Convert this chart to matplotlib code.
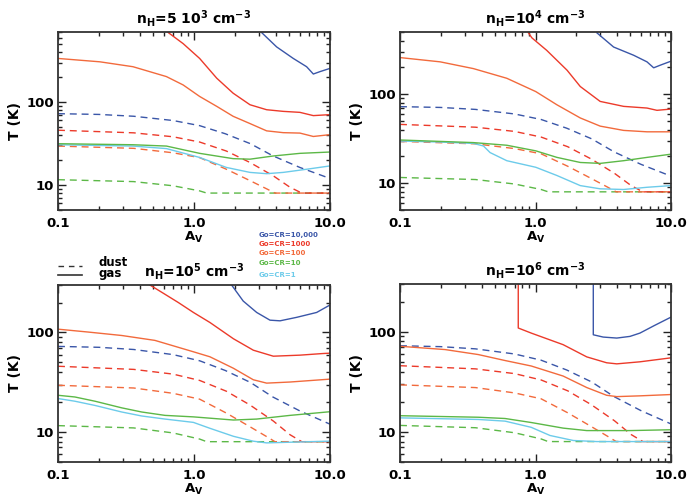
import matplotlib
matplotlib.use('Agg')
import matplotlib.pyplot as plt
from matplotlib.ticker import FixedLocator, FixedFormatter, LogLocator, NullFormatter

plt.rcParams['font.family'] = ['DejaVu Sans']
plt.rcParams['font.weight'] = 'bold'
plt.rcParams['mathtext.default'] = 'bf'

# ---------------- data ----------------
titles = [r'n$_{H}$=5 10$^{3}$ cm$^{-3}$', r'n$_{H}$=10$^{4}$ cm$^{-3}$',
          r'n$_{H}$=10$^{5}$ cm$^{-3}$', r'n$_{H}$=10$^{6}$ cm$^{-3}$']
ylims = [(5, 700), (5, 500), (5, 300), (5, 300)]
legend_labels = ['Go=CR=10,000', 'Go=CR=1000', 'Go=CR=100', 'Go=CR=10', 'Go=CR=1']

# dust temperatures (same for all densities)
dust_av_g1e4 = [0.1, 0.2, 0.36, 0.7, 1.1, 1.7, 2.6, 3.8, 6.0, 10]
dust_t_g1e4 = [72.5, 71, 67.5, 60, 52, 41.5, 31.5, 22.5, 16.3, 12]
dust_av_g1e3 = [0.1, 0.36, 0.7, 1.1, 1.73, 2.58, 3.83, 5.08, 6.2, 10]
dust_t_g1e3 = [45.8, 42.6, 38.2, 33, 25.7, 18.7, 12.9, 9.4, 8, 8]
dust_av_g1e2 = [0.1, 0.36, 0.7, 1.1, 1.73, 2.58, 3.42, 3.94, 10]
dust_t_g1e2 = [29.5, 27.7, 24.5, 21.4, 15.5, 11.3, 9, 8, 8]
dust_av_g10 = [0.1, 0.36, 0.7, 1.1, 1.24, 10]
dust_t_g10 = [11.6, 11, 9.8, 8.5, 8, 8]

# gas temperatures, panel 1 (n=5e3)
p1_av_g1e4 = [3.14, 4.05, 5.37, 6.73, 7.54, 8.44, 10]
p1_t_g1e4 = [690, 463, 336, 267, 218, 233, 255]
p1_av_g1e3 = [0.646, 0.832, 1.10, 1.47, 1.94, 2.58, 3.42, 4.53, 6.01, 7.54, 10]
p1_t_g1e3 = [690, 507, 336, 194, 128, 92.9, 80.9, 77.3, 75.2, 68.7, 70.6]
p1_av_g1e2 = [0.1, 0.203, 0.356, 0.627, 0.832, 1.10, 1.47, 1.94, 2.58, 3.42, 4.53, 6.01, 7.54, 10]
p1_t_g1e2 = [336, 306, 267, 203, 161, 117, 88.8, 67.4, 55.1, 45, 42.8, 42.3, 38.5, 40.5]
p1_av_g10 = [0.1, 0.356, 0.627, 1.10, 1.94, 2.58, 3.83, 6.01, 10]
p1_t_g10 = [31.5, 30.6, 29.5, 24.1, 20.8, 20.5, 22.4, 24.1, 25]
p1_av_g1 = [0.1, 0.356, 0.627, 1.10, 1.73, 2.58, 3.42, 4.53, 6.73, 10]
p1_t_g1 = [30.6, 29.5, 27.5, 21.5, 16.3, 14.2, 13.7, 14.2, 15.5, 17.0]

# panel 2 (n=1e4)
p2_av_g1e4 = [2.84, 3.77, 5.3, 6.65, 7.45, 8.34, 10]
p2_t_g1e4 = [489, 339, 274, 231, 198, 212, 235]
p2_av_g1e3 = [0.887, 0.94, 1.21, 1.71, 2.14, 3.0, 4.47, 6.65, 7.88, 10]
p2_t_g1e3 = [489, 430, 311, 186, 122, 83, 73, 69.9, 65.9, 68.1]
p2_av_g1e2 = [0.1, 0.198, 0.348, 0.614, 1.005, 1.44, 2.14, 3.0, 4.47, 6.65, 10]
p2_t_g1e2 = [258, 231, 194, 151, 107, 76, 54.1, 43.8, 39.2, 37.8, 37.8]
p2_av_g10 = [0.1, 0.348, 0.614, 1.005, 1.44, 2.14, 3.0, 4.47, 6.65, 10]
p2_t_g10 = [30.6, 28.6, 26.7, 23.1, 19.5, 17.1, 16.7, 17.9, 19.5, 21.2]
p2_av_g1 = [0.1, 0.198, 0.348, 0.413, 0.462, 0.614, 1.005, 1.44, 2.14, 3.0, 4.47, 6.65, 10]
p2_t_g1 = [29.8, 29.0, 28.0, 26.2, 22.1, 17.9, 15.1, 12.2, 9.4, 8.65, 8.5, 9.0, 9.4]

# panel 3 (n=1e5)
p3_av_g1e4 = [1.89, 2.3, 2.89, 3.62, 4.29, 5.69, 7.98, 10]
p3_t_g1e4 = [300, 207, 159, 133, 131, 142, 159, 189]
p3_av_g1e3 = [0.474, 0.612, 0.767, 0.99, 1.31, 1.95, 2.73, 3.83, 6.0, 8.9, 10]
p3_t_g1e3 = [300, 242, 200, 159, 126, 86.5, 66.4, 57.8, 59.2, 61.5, 62]
p3_av_g1e2 = [0.1, 0.167, 0.294, 0.516, 0.99, 1.31, 1.95, 2.73, 3.42, 5.08, 10]
p3_t_g1e2 = [108, 101, 93.3, 83.3, 64, 57, 43.7, 33.5, 31, 31.8, 34]
p3_av_g10 = [0.1, 0.133, 0.187, 0.294, 0.412, 0.612, 0.99, 1.95, 2.89, 5.08, 10]
p3_t_g10 = [23.4, 22.5, 20.4, 17.5, 15.9, 14.7, 14.2, 13.2, 13.5, 14.7, 16.0]
p3_av_g1 = [0.1, 0.133, 0.187, 0.294, 0.412, 0.612, 0.99, 1.31, 1.95, 2.73, 3.42, 5.08, 10]
p3_t_g1 = [21.7, 20.4, 18.5, 15.9, 14.5, 13.5, 12.5, 10.9, 9.06, 8.09, 7.78, 7.9, 8.1]

# panel 4 (n=1e6)
p4_av_g1e4 = [2.67, 2.67, 3.16, 3.98, 4.98, 5.9, 7.5, 10]
p4_t_g1e4 = [400, 93.3, 88.5, 86.5, 89.9, 97, 115, 140]
p4_av_g1e3 = [0.746, 0.746, 0.93, 1.6, 2.39, 3.35, 3.98, 5.9, 10]
p4_t_g1e3 = [400, 109, 97, 74.3, 56.1, 49, 47.8, 50.1, 54.9]
p4_av_g1e2 = [0.1, 0.215, 0.378, 0.596, 0.93, 1.6, 2.39, 3.35, 3.98, 5.9, 10]
p4_t_g1e2 = [71.6, 66.4, 59.2, 51.6, 45.5, 36.1, 27.7, 23.2, 22.5, 22.9, 23.6]
p4_av_g10 = [0.1, 0.378, 0.596, 0.93, 1.6, 2.39, 4.98, 10]
p4_t_g10 = [14.5, 14.0, 13.6, 12.4, 10.9, 10.3, 10.3, 10.5]
p4_av_g1 = [0.1, 0.378, 0.596, 0.93, 1.28, 1.9, 2.83, 10]
p4_t_g1 = [13.8, 13.3, 12.8, 11.1, 9.2, 8.2, 8.0, 8.0]

# ---------------- style ----------------
C_BLUE = '#3a56a8'
C_RED = '#ec3a2a'
C_ORANGE = '#f26a3c'
C_GREEN = '#5cb847'
C_CYAN = '#6ccbea'
colors = [C_BLUE, C_RED, C_ORANGE, C_GREEN, C_CYAN]

dust = [(dust_av_g10, dust_t_g10, C_GREEN),
        (dust_av_g1e2, dust_t_g1e2, C_ORANGE),
        (dust_av_g1e3, dust_t_g1e3, C_RED),
        (dust_av_g1e4, dust_t_g1e4, C_BLUE)]

gas_panels = [
    [(p1_av_g1e4, p1_t_g1e4), (p1_av_g1e3, p1_t_g1e3), (p1_av_g1e2, p1_t_g1e2), (p1_av_g10, p1_t_g10), (p1_av_g1, p1_t_g1)],
    [(p2_av_g1e4, p2_t_g1e4), (p2_av_g1e3, p2_t_g1e3), (p2_av_g1e2, p2_t_g1e2), (p2_av_g10, p2_t_g10), (p2_av_g1, p2_t_g1)],
    [(p3_av_g1e4, p3_t_g1e4), (p3_av_g1e3, p3_t_g1e3), (p3_av_g1e2, p3_t_g1e2), (p3_av_g10, p3_t_g10), (p3_av_g1, p3_t_g1)],
    [(p4_av_g1e4, p4_t_g1e4), (p4_av_g1e3, p4_t_g1e3), (p4_av_g1e2, p4_t_g1e2), (p4_av_g10, p4_t_g10), (p4_av_g1, p4_t_g1)],
]

W, H = 687, 501
fig = plt.figure(figsize=(W / 100, H / 100), dpi=100)

# axes boxes in pixels: left, top, right, bottom
boxes = [(58, 32, 330, 210), (400, 32, 671, 210), (58, 285, 330, 462), (400, 284, 671, 462)]

axes = []
for i, (l, t, r, b) in enumerate(boxes):
    ax = fig.add_axes([l / W, 1 - b / H, (r - l) / W, (b - t) / H])
    axes.append(ax)
    ax.set_xscale('log')
    ax.set_yscale('log')
    ax.set_xlim(0.1, 10)
    ax.set_ylim(*ylims[i])

    for av, t_, c in dust:
        ax.plot(av, t_, color=c, lw=1.0, ls=(0, (5, 3.5)))
    # gas: draw low G first so higher on top
    for j in range(4, -1, -1):
        av, t_ = gas_panels[i][j]
        ax.plot(av, t_, color=colors[j], lw=1.0)

    ax.xaxis.set_major_locator(FixedLocator([0.1, 1.0, 10.0]))
    ax.xaxis.set_major_formatter(FixedFormatter(['0.1', '1.0', '10.0']))
    ax.xaxis.set_minor_locator(LogLocator(base=10, subs=range(2, 10)))
    ax.xaxis.set_minor_formatter(NullFormatter())
    ax.yaxis.set_major_locator(FixedLocator([10, 100]))
    ax.yaxis.set_major_formatter(FixedFormatter(['10', '100']))
    ax.yaxis.set_minor_locator(LogLocator(base=10, subs=range(2, 10)))
    ax.yaxis.set_minor_formatter(NullFormatter())
    ax.tick_params(which='both', direction='in', top=True, right=True, width=1.0, color='#222222')
    ax.tick_params(which='major', length=6, labelsize=9.5)
    ax.tick_params(which='minor', length=3)
    ax.tick_params(axis='x', which='major', pad=5)
    ax.tick_params(axis='y', which='major', pad=3)
    for lab in ax.get_xticklabels() + ax.get_yticklabels():
        lab.set_fontweight('bold')
    for sp in ax.spines.values():
        sp.set_linewidth(1.3)
        sp.set_color('#333333')
    ax.set_xlabel(r'A$_{V}$', fontsize=9.5, fontweight='bold', labelpad=0)
    ax.set_ylabel('T (K)', fontsize=10, fontweight='bold', labelpad=3)
    ax.set_title(titles[i], fontsize=10, fontweight='bold', pad=6)

# dust / gas key above panel 3
ax3 = axes[2]
ax3.plot([0.0, 0.09], [1.11, 1.11], transform=ax3.transAxes, clip_on=False,
         color='#333333', lw=1.0, ls=(0, (4, 3.5)))
ax3.plot([0.0, 0.09], [1.055, 1.055], transform=ax3.transAxes, clip_on=False,
         color='#333333', lw=1.2)
ax3.text(0.15, 1.095, 'dust\ngas', transform=ax3.transAxes, fontsize=8.5, fontweight='bold',
         va='center', ha='left', linespacing=0.85)

# coloured G0 labels
label_y = [235, 244, 253, 263, 275]
for lab, c, y in zip(legend_labels, colors, label_y):
    fig.text(259 / W, 1 - y / H, lab, color=c, fontsize=5, fontweight='bold',
             va='center', ha='left')

fig.savefig('out.png', dpi=100)
